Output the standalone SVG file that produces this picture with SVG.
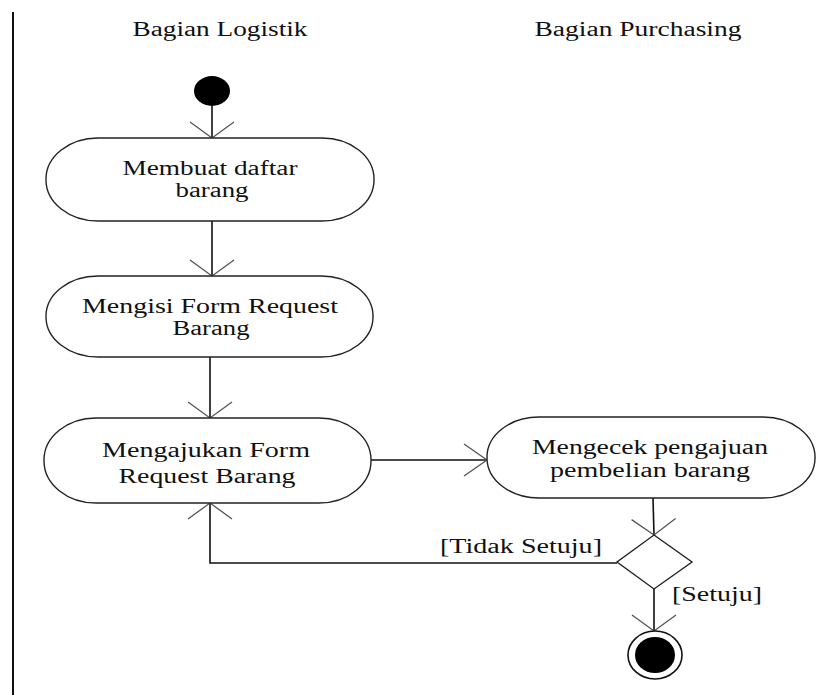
<svg xmlns="http://www.w3.org/2000/svg" width="838" height="695" viewBox="0 0 838 695">
<style>
text{font-family:"Liberation Serif","DejaVu Serif",serif;font-size:20px;fill:#111;text-anchor:middle}
.act{fill:#fff;stroke:#222;stroke-width:1.4}
.ln{fill:none;stroke:#111;stroke-width:1.6}
.ah{fill:none;stroke:#555;stroke-width:1.3}
</style>
<defs>
<marker id="av" markerUnits="userSpaceOnUse" orient="auto" overflow="visible" markerWidth="1" markerHeight="1" refX="0" refY="0">
<path class="ah" d="M-16,-22 L0,0 L-16,22"/>
</marker>
<marker id="ah" markerUnits="userSpaceOnUse" orient="auto" overflow="visible" markerWidth="1" markerHeight="1" refX="0" refY="0">
<path class="ah" d="M-23,-16 L0,0 L-23,16"/>
</marker>
</defs>
<rect width="838" height="695" fill="#fff"/>
<line x1="13" y1="12" x2="13" y2="695" stroke="#111" stroke-width="2"/>
<g id="lane-titles">
<text x="220" y="36" textLength="175" lengthAdjust="spacingAndGlyphs" font-family="Liberation Serif, serif">Bagian Logistik</text>
<text x="638" y="36" textLength="207" lengthAdjust="spacingAndGlyphs" font-family="Liberation Serif, serif">Bagian Purchasing</text>
</g>
<g id="connectors">
<line class="ln" x1="212" y1="106" x2="212" y2="138" marker-end="url(#av)"/>
<line class="ln" x1="212" y1="221" x2="212" y2="276" marker-end="url(#av)"/>
<line class="ln" x1="210" y1="357" x2="210" y2="418" marker-end="url(#av)"/>
<line class="ln" x1="371" y1="460" x2="487" y2="460" marker-end="url(#ah)"/>
<line class="ln" x1="653" y1="498" x2="654" y2="535" marker-end="url(#av)"/>
<polyline class="ln" points="617,563 210,563 210,503" marker-end="url(#av)"/>
<line class="ln" x1="654" y1="589" x2="654" y2="631" marker-end="url(#av)"/>
<text x="521" y="553" textLength="162" lengthAdjust="spacingAndGlyphs" font-family="Liberation Serif, serif">[Tidak Setuju]</text>
<text x="717" y="601" textLength="90" lengthAdjust="spacingAndGlyphs" font-family="Liberation Serif, serif">[Setuju]</text>
</g>
<g id="start">
<ellipse cx="212" cy="91" rx="18" ry="15" fill="#000"/>
</g>
<g id="membuat-daftar-barang">
<rect class="act" x="46" y="138" width="328" height="83" rx="52" ry="41"/>
<text x="210" y="175" textLength="175" lengthAdjust="spacingAndGlyphs" font-family="Liberation Serif, serif">Membuat daftar</text>
<text x="212" y="197" textLength="73" lengthAdjust="spacingAndGlyphs" font-family="Liberation Serif, serif">barang</text>
</g>
<g id="mengisi-form">
<rect class="act" x="46" y="276" width="327" height="81" rx="52" ry="40"/>
<text x="210" y="313" textLength="256" lengthAdjust="spacingAndGlyphs" font-family="Liberation Serif, serif">Mengisi Form Request</text>
<text x="211" y="335" textLength="77" lengthAdjust="spacingAndGlyphs" font-family="Liberation Serif, serif">Barang</text>
</g>
<g id="mengajukan-form">
<rect class="act" x="44" y="418" width="327" height="85" rx="52" ry="42"/>
<text x="206" y="457" textLength="208" lengthAdjust="spacingAndGlyphs" font-family="Liberation Serif, serif">Mengajukan Form</text>
<text x="207" y="483" textLength="177" lengthAdjust="spacingAndGlyphs" font-family="Liberation Serif, serif">Request Barang</text>
</g>
<g id="mengecek-pengajuan">
<rect class="act" x="487" y="417" width="328" height="81" rx="52" ry="40"/>
<text x="650" y="454" textLength="236" lengthAdjust="spacingAndGlyphs" font-family="Liberation Serif, serif">Mengecek pengajuan</text>
<text x="650" y="477" textLength="200" lengthAdjust="spacingAndGlyphs" font-family="Liberation Serif, serif">pembelian barang</text>
</g>
<g id="decision">
<polygon class="act" points="654,535 692,562 654,589 617,562"/>
</g>
<g id="end">
<ellipse cx="655" cy="655" rx="27" ry="24" fill="#fff" stroke="#111" stroke-width="1.6"/>
<ellipse cx="655" cy="655" rx="20" ry="18" fill="#000"/>
</g>
</svg>
